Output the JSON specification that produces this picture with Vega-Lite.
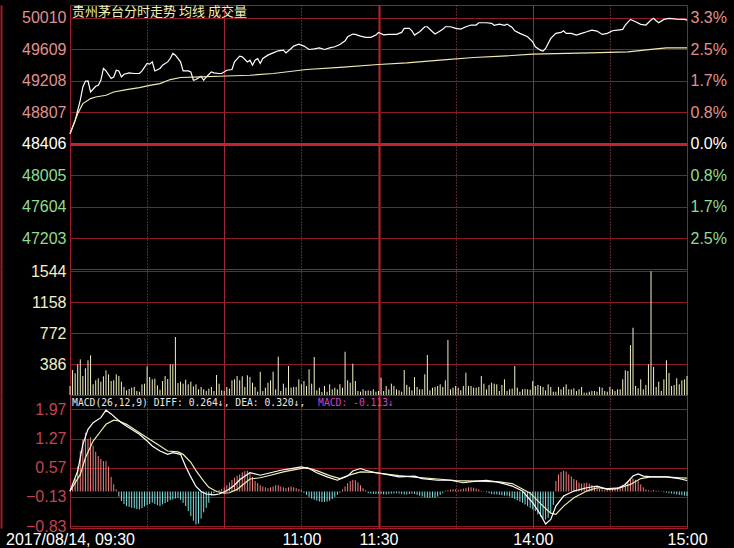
{
  "$schema": "https://vega.github.io/schema/vega-lite/v6.json",
  "background": "#000000",
  "padding": {"left": 0, "top": 4, "right": 0, "bottom": 0},
  "spacing": 0,
  "bounds": "flush",
  "config": {
    "view": {"stroke": "#a01c2a", "strokeWidth": 1},
    "axis": {"labelFont": "Liberation Sans", "labelFontSize": 16, "ticks": false, "tickSize": 0, "title": null, "gridColor": "#8e1a26", "domainColor": "#a01c2a", "labelOverlap": false},
    "concat": {"spacing": 0}
  },
  "datasets": {
    "price": [
      {"m":0,"p":48534},{"m":2,"p":48700},{"m":4,"p":48960},{"m":5,"p":49129},{"m":6,"p":49202},{"m":7,"p":49205},{"m":8,"p":49065},{"m":10,"p":49138},{"m":11,"p":49150},{"m":12,"p":49214},{"m":13,"p":49364},{"m":14,"p":49333},{"m":16,"p":49236},{"m":17,"p":49256},{"m":18,"p":49342},{"m":19,"p":49333},{"m":20,"p":49256},{"m":21,"p":49291},{"m":23,"p":49308},{"m":25,"p":49300},{"m":27,"p":49300},{"m":28,"p":49333},{"m":30,"p":49428},{"m":31,"p":49419},{"m":32,"p":49448},{"m":33,"p":49333},{"m":35,"p":49364},{"m":36,"p":49406},{"m":38,"p":49448},{"m":39,"p":49491},{"m":40,"p":49555},{"m":41,"p":49534},{"m":43,"p":49448},{"m":44,"p":49333},{"m":46,"p":49333},{"m":47,"p":49320},{"m":48,"p":49214},{"m":49,"p":49223},{"m":51,"p":49265},{"m":52,"p":49214},{"m":53,"p":49256},{"m":55,"p":49320},{"m":56,"p":49308},{"m":58,"p":49300},{"m":59,"p":49300},{"m":61,"p":49342},{"m":63,"p":49351},{"m":64,"p":49448},{"m":66,"p":49521},{"m":67,"p":49512},{"m":69,"p":49448},{"m":70,"p":49470},{"m":71,"p":49406},{"m":72,"p":49470},{"m":73,"p":49491},{"m":74,"p":49428},{"m":75,"p":49491},{"m":77,"p":49534},{"m":79,"p":49563},{"m":81,"p":49589},{"m":83,"p":49597},{"m":84,"p":49563},{"m":86,"p":49619},{"m":87,"p":49649},{"m":89,"p":49674},{"m":91,"p":49649},{"m":93,"p":49606},{"m":95,"p":49614},{"m":97,"p":49627},{"m":99,"p":49606},{"m":101,"p":49627},{"m":103,"p":49640},{"m":105,"p":49670},{"m":107,"p":49716},{"m":108,"p":49767},{"m":110,"p":49802},{"m":111,"p":49798},{"m":113,"p":49776},{"m":115,"p":49760},{"m":117,"p":49760},{"m":119,"p":49789},{"m":120,"p":49823},{"m":122,"p":49793},{"m":124,"p":49798},{"m":127,"p":49798},{"m":129,"p":49823},{"m":130,"p":49875},{"m":132,"p":49875},{"m":133,"p":49844},{"m":134,"p":49789},{"m":136,"p":49831},{"m":138,"p":49895},{"m":139,"p":49895},{"m":141,"p":49831},{"m":142,"p":49802},{"m":143,"p":49823},{"m":145,"p":49862},{"m":146,"p":49895},{"m":148,"p":49895},{"m":150,"p":49875},{"m":152,"p":49866},{"m":154,"p":49895},{"m":156,"p":49917},{"m":158,"p":49917},{"m":159,"p":49946},{"m":162,"p":49946},{"m":164,"p":49938},{"m":165,"p":49913},{"m":167,"p":49929},{"m":169,"p":49913},{"m":170,"p":49929},{"m":172,"p":49887},{"m":173,"p":49844},{"m":175,"p":49811},{"m":178,"p":49767},{"m":180,"p":49703},{"m":181,"p":49640},{"m":183,"p":49597},{"m":184,"p":49585},{"m":185,"p":49619},{"m":187,"p":49747},{"m":189,"p":49811},{"m":191,"p":49823},{"m":192,"p":49844},{"m":193,"p":49811},{"m":195,"p":49811},{"m":197,"p":49789},{"m":199,"p":49811},{"m":201,"p":49831},{"m":203,"p":49853},{"m":205,"p":49840},{"m":207,"p":49798},{"m":209,"p":49811},{"m":211,"p":49844},{"m":213,"p":49853},{"m":215,"p":49862},{"m":216,"p":49917},{"m":218,"p":49989},{"m":220,"p":49959},{"m":222,"p":49926},{"m":224,"p":49917},{"m":226,"p":49981},{"m":227,"p":50002},{"m":228,"p":49972},{"m":229,"p":49946},{"m":231,"p":49989},{"m":233,"p":50002},{"m":236,"p":49993},{"m":239,"p":49989},{"m":240,"p":49980}
    ],
    "avg": [
      {"m":0,"a":48534},{"m":3,"a":48789},{"m":5,"a":48917},{"m":8,"a":48981},{"m":10,"a":49001},{"m":14,"a":49023},{"m":17,"a":49065},{"m":22,"a":49096},{"m":27,"a":49121},{"m":31,"a":49150},{"m":35,"a":49172},{"m":39,"a":49223},{"m":43,"a":49249},{"m":51,"a":49257},{"m":58,"a":49265},{"m":70,"a":49278},{"m":79,"a":49300},{"m":92,"a":49351},{"m":105,"a":49377},{"m":120,"a":49415},{"m":131,"a":49435},{"m":144,"a":49470},{"m":157,"a":49504},{"m":168,"a":49521},{"m":180,"a":49546},{"m":202,"a":49563},{"m":217,"a":49576},{"m":227,"a":49610},{"m":232,"a":49627},{"m":240,"a":49627}
    ],
    "diff": [
      {"m":0,"d":0.01},{"m":3,"d":0.49},{"m":5,"d":1.13},{"m":7,"d":1.49},{"m":9,"d":1.65},{"m":12,"d":1.77},{"m":14,"d":1.95},{"m":16,"d":1.86},{"m":18,"d":1.75},{"m":20,"d":1.65},{"m":23,"d":1.53},{"m":27,"d":1.37},{"m":30,"d":1.21},{"m":32,"d":1.09},{"m":35,"d":0.97},{"m":38,"d":0.89},{"m":40,"d":0.93},{"m":43,"d":0.89},{"m":45,"d":0.6},{"m":47,"d":0.35},{"m":49,"d":0.12},{"m":51,"d":0.0},{"m":53,"d":-0.06},{"m":56,"d":-0.08},{"m":58,"d":-0.06},{"m":61,"d":0.02},{"m":64,"d":0.15},{"m":66,"d":0.28},{"m":70,"d":0.45},{"m":74,"d":0.39},{"m":78,"d":0.45},{"m":82,"d":0.51},{"m":86,"d":0.55},{"m":90,"d":0.59},{"m":93,"d":0.55},{"m":96,"d":0.45},{"m":100,"d":0.35},{"m":104,"d":0.27},{"m":108,"d":0.37},{"m":110,"d":0.49},{"m":113,"d":0.55},{"m":115,"d":0.51},{"m":119,"d":0.45},{"m":123,"d":0.41},{"m":128,"d":0.35},{"m":134,"d":0.37},{"m":137,"d":0.31},{"m":143,"d":0.27},{"m":148,"d":0.27},{"m":153,"d":0.21},{"m":158,"d":0.25},{"m":162,"d":0.27},{"m":166,"d":0.23},{"m":172,"d":0.13},{"m":176,"d":0.01},{"m":180,"d":-0.27},{"m":183,"d":-0.55},{"m":185,"d":-0.78},{"m":187,"d":-0.67},{"m":189,"d":-0.35},{"m":192,"d":-0.11},{"m":196,"d":0.01},{"m":201,"d":0.09},{"m":205,"d":0.13},{"m":209,"d":0.05},{"m":213,"d":0.07},{"m":216,"d":0.17},{"m":219,"d":0.37},{"m":221,"d":0.42},{"m":223,"d":0.37},{"m":227,"d":0.35},{"m":232,"d":0.35},{"m":237,"d":0.31},{"m":240,"d":0.264}
    ],
    "dea": [
      {"m":0,"e":0.01},{"m":4,"e":0.41},{"m":6,"e":0.81},{"m":9,"e":1.21},{"m":12,"e":1.45},{"m":14,"e":1.61},{"m":17,"e":1.71},{"m":19,"e":1.69},{"m":22,"e":1.61},{"m":26,"e":1.45},{"m":30,"e":1.29},{"m":34,"e":1.13},{"m":38,"e":0.97},{"m":42,"e":0.95},{"m":44,"e":0.89},{"m":47,"e":0.7},{"m":49,"e":0.5},{"m":52,"e":0.25},{"m":54,"e":0.1},{"m":57,"e":0.0},{"m":60,"e":-0.04},{"m":62,"e":-0.03},{"m":65,"e":0.05},{"m":67,"e":0.15},{"m":70,"e":0.3},{"m":74,"e":0.33},{"m":78,"e":0.39},{"m":83,"e":0.47},{"m":88,"e":0.53},{"m":92,"e":0.57},{"m":96,"e":0.5},{"m":101,"e":0.38},{"m":105,"e":0.31},{"m":109,"e":0.4},{"m":113,"e":0.47},{"m":118,"e":0.46},{"m":123,"e":0.42},{"m":128,"e":0.38},{"m":135,"e":0.34},{"m":143,"e":0.3},{"m":150,"e":0.26},{"m":158,"e":0.25},{"m":167,"e":0.23},{"m":172,"e":0.19},{"m":179,"e":-0.04},{"m":184,"e":-0.35},{"m":187,"e":-0.52},{"m":189,"e":-0.55},{"m":192,"e":-0.35},{"m":196,"e":-0.15},{"m":201,"e":0.01},{"m":205,"e":0.09},{"m":209,"e":0.07},{"m":214,"e":0.09},{"m":218,"e":0.17},{"m":222,"e":0.31},{"m":226,"e":0.35},{"m":232,"e":0.35},{"m":237,"e":0.33},{"m":240,"e":0.32}
    ],
    "bars": [
      {"m":0,"v":112,"h":0.03},{"m":1,"v":311,"h":0.09},{"m":2,"v":270,"h":0.3},{"m":3,"v":382,"h":0.6},{"m":4,"v":444,"h":0.97},{"m":5,"v":237,"h":1.25},{"m":6,"v":332,"h":1.41},{"m":7,"v":432,"h":1.26},{"m":8,"v":494,"h":1.3},{"m":9,"v":133,"h":1.1},
      {"m":10,"v":183,"h":0.95},{"m":11,"v":208,"h":0.85},{"m":12,"v":166,"h":0.78},{"m":13,"v":233,"h":0.73},{"m":14,"v":307,"h":0.73},{"m":15,"v":258,"h":0.6},{"m":16,"v":174,"h":0.35},{"m":17,"v":183,"h":0.17},{"m":18,"v":258,"h":0.05},{"m":19,"v":237,"h":-0.12},
      {"m":20,"v":166,"h":-0.23},{"m":21,"v":100,"h":-0.3},{"m":22,"v":58,"h":-0.35},{"m":23,"v":75,"h":-0.37},{"m":24,"v":91,"h":-0.39},{"m":25,"v":100,"h":-0.4},{"m":26,"v":50,"h":-0.42},{"m":27,"v":41,"h":-0.43},{"m":28,"v":133,"h":-0.4},{"m":29,"v":141,"h":-0.36},
      {"m":30,"v":357,"h":-0.33},{"m":31,"v":224,"h":-0.3},{"m":32,"v":195,"h":-0.27},{"m":33,"v":203,"h":-0.3},{"m":34,"v":120,"h":-0.33},{"m":35,"v":66,"h":-0.35},{"m":36,"v":174,"h":-0.31},{"m":37,"v":237,"h":-0.28},{"m":38,"v":199,"h":-0.25},{"m":39,"v":382,"h":-0.21},
      {"m":40,"v":382,"h":-0.19},{"m":41,"v":722,"h":-0.17},{"m":42,"v":149,"h":-0.15},{"m":43,"v":166,"h":-0.2},{"m":44,"v":141,"h":-0.27},{"m":45,"v":191,"h":-0.35},{"m":46,"v":133,"h":-0.47},{"m":47,"v":166,"h":-0.59},{"m":48,"v":108,"h":-0.7},{"m":49,"v":133,"h":-0.79},
      {"m":50,"v":71,"h":-0.77},{"m":51,"v":100,"h":-0.65},{"m":52,"v":71,"h":-0.5},{"m":53,"v":50,"h":-0.39},{"m":54,"v":79,"h":-0.27},{"m":55,"v":100,"h":-0.1},{"m":56,"v":50,"h":-0.04},{"m":57,"v":249,"h":0.02},{"m":58,"v":141,"h":0.04},{"m":59,"v":58,"h":0.06},
      {"m":60,"v":50,"h":0.1},{"m":61,"v":100,"h":0.15},{"m":62,"v":79,"h":0.22},{"m":63,"v":183,"h":0.28},{"m":64,"v":195,"h":0.33},{"m":65,"v":237,"h":0.38},{"m":66,"v":183,"h":0.41},{"m":67,"v":233,"h":0.46},{"m":68,"v":100,"h":0.49},{"m":69,"v":245,"h":0.5},
      {"m":70,"v":224,"h":0.45},{"m":71,"v":153,"h":0.35},{"m":72,"v":100,"h":0.25},{"m":73,"v":41,"h":0.2},{"m":74,"v":290,"h":0.15},{"m":75,"v":50,"h":0.12},{"m":76,"v":91,"h":0.1},{"m":77,"v":153,"h":0.08},{"m":78,"v":183,"h":0.1},{"m":79,"v":290,"h":0.12},
      {"m":80,"v":71,"h":0.15},{"m":81,"v":477,"h":0.15},{"m":82,"v":50,"h":0.12},{"m":83,"v":141,"h":0.1},{"m":84,"v":91,"h":0.08},{"m":85,"v":361,"h":0.1},{"m":86,"v":91,"h":0.12},{"m":87,"v":100,"h":0.1},{"m":88,"v":100,"h":0.08},{"m":89,"v":195,"h":0.06},
      {"m":90,"v":133,"h":0.04},{"m":91,"v":174,"h":-0.03},{"m":92,"v":112,"h":-0.08},{"m":93,"v":320,"h":-0.13},{"m":94,"v":141,"h":-0.17},{"m":95,"v":473,"h":-0.2},{"m":96,"v":58,"h":-0.22},{"m":97,"v":91,"h":-0.24},{"m":98,"v":37,"h":-0.25},{"m":99,"v":112,"h":-0.25},
      {"m":100,"v":41,"h":-0.24},{"m":101,"v":133,"h":-0.22},{"m":102,"v":71,"h":-0.18},{"m":103,"v":91,"h":-0.13},{"m":104,"v":71,"h":-0.08},{"m":105,"v":133,"h":-0.03},{"m":106,"v":91,"h":0.05},{"m":107,"v":539,"h":0.12},{"m":108,"v":183,"h":0.2},{"m":109,"v":153,"h":0.25},
      {"m":110,"v":390,"h":0.28},{"m":111,"v":174,"h":0.27},{"m":112,"v":50,"h":0.22},{"m":113,"v":41,"h":0.15},{"m":114,"v":71,"h":0.08},{"m":115,"v":50,"h":0.03},{"m":116,"v":58,"h":-0.04},{"m":117,"v":50,"h":-0.05},{"m":118,"v":71,"h":-0.06},{"m":119,"v":41,"h":-0.06},
      {"m":120,"v":50,"h":-0.05},{"m":121,"v":216,"h":-0.06},{"m":122,"v":50,"h":-0.07},{"m":123,"v":112,"h":-0.07},{"m":124,"v":71,"h":-0.06},{"m":125,"v":141,"h":-0.05},{"m":126,"v":112,"h":-0.05},{"m":127,"v":71,"h":-0.04},{"m":128,"v":58,"h":-0.05},{"m":129,"v":41,"h":-0.06},
      {"m":130,"v":311,"h":-0.07},{"m":131,"v":125,"h":-0.07},{"m":132,"v":100,"h":-0.06},{"m":133,"v":58,"h":-0.05},{"m":134,"v":224,"h":-0.06},{"m":135,"v":100,"h":-0.08},{"m":136,"v":71,"h":-0.1},{"m":137,"v":71,"h":-0.12},{"m":138,"v":258,"h":-0.14},{"m":139,"v":498,"h":-0.15},
      {"m":140,"v":58,"h":-0.15},{"m":141,"v":91,"h":-0.14},{"m":142,"v":100,"h":-0.15},{"m":143,"v":112,"h":-0.12},{"m":144,"v":133,"h":-0.08},{"m":145,"v":100,"h":-0.04},{"m":146,"v":183,"h":0.02},{"m":147,"v":685,"h":0.03},{"m":148,"v":71,"h":0.04},{"m":149,"v":91,"h":0.05},
      {"m":150,"v":112,"h":0.05},{"m":151,"v":91,"h":0.04},{"m":152,"v":58,"h":0.05},{"m":153,"v":112,"h":0.07},{"m":154,"v":278,"h":0.08},{"m":155,"v":112,"h":0.1},{"m":156,"v":112,"h":0.1},{"m":157,"v":91,"h":0.09},{"m":158,"v":91,"h":0.07},{"m":159,"v":100,"h":0.05},
      {"m":160,"v":237,"h":0.02},{"m":161,"v":141,"h":0.01},{"m":162,"v":71,"h":-0.02},{"m":163,"v":125,"h":-0.04},{"m":164,"v":153,"h":-0.06},{"m":165,"v":141,"h":-0.07},{"m":166,"v":133,"h":-0.07},{"m":167,"v":50,"h":-0.08},{"m":168,"v":125,"h":-0.09},{"m":169,"v":195,"h":-0.1},
      {"m":170,"v":50,"h":-0.1},{"m":171,"v":71,"h":-0.12},{"m":172,"v":79,"h":-0.15},{"m":173,"v":361,"h":-0.18},{"m":174,"v":91,"h":-0.21},{"m":175,"v":41,"h":-0.24},{"m":176,"v":71,"h":-0.27},{"m":177,"v":75,"h":-0.31},{"m":178,"v":71,"h":-0.35},{"m":179,"v":66,"h":-0.39},
      {"m":180,"v":174,"h":-0.43},{"m":181,"v":112,"h":-0.47},{"m":182,"v":125,"h":-0.55},{"m":183,"v":112,"h":-0.6},{"m":184,"v":100,"h":-0.65},{"m":185,"v":58,"h":-0.67},{"m":186,"v":133,"h":-0.63},{"m":187,"v":100,"h":-0.5},{"m":188,"v":41,"h":-0.32},{"m":189,"v":41,"h":0.25},
      {"m":190,"v":100,"h":0.41},{"m":191,"v":71,"h":0.47},{"m":192,"v":100,"h":0.5},{"m":193,"v":133,"h":0.48},{"m":194,"v":71,"h":0.41},{"m":195,"v":71,"h":0.36},{"m":196,"v":83,"h":0.3},{"m":197,"v":50,"h":0.27},{"m":198,"v":71,"h":0.21},{"m":199,"v":100,"h":0.19},
      {"m":200,"v":29,"h":0.2},{"m":201,"v":29,"h":0.21},{"m":202,"v":41,"h":0.19},{"m":203,"v":50,"h":0.16},{"m":204,"v":50,"h":0.12},{"m":205,"v":41,"h":0.08},{"m":206,"v":100,"h":0.06},{"m":207,"v":91,"h":0.05},{"m":208,"v":50,"h":0.04},{"m":209,"v":41,"h":0.04},
      {"m":210,"v":100,"h":0.05},{"m":211,"v":71,"h":0.06},{"m":212,"v":50,"h":0.08},{"m":213,"v":71,"h":0.1},{"m":214,"v":71,"h":0.12},{"m":215,"v":195,"h":0.16},{"m":216,"v":307,"h":0.21},{"m":217,"v":299,"h":0.25},{"m":218,"v":622,"h":0.29},{"m":219,"v":838,"h":0.31},
      {"m":220,"v":112,"h":0.28},{"m":221,"v":83,"h":0.25},{"m":222,"v":195,"h":0.17},{"m":223,"v":71,"h":0.1},{"m":224,"v":125,"h":0.05},{"m":225,"v":382,"h":0.03},{"m":226,"v":1540,"h":0.02},{"m":227,"v":349,"h":0.03},{"m":228,"v":100,"h":0.02},{"m":229,"v":166,"h":0.02},
      {"m":230,"v":50,"h":0.01},{"m":231,"v":195,"h":-0.02},{"m":232,"v":432,"h":-0.03},{"m":233,"v":274,"h":-0.04},{"m":234,"v":112,"h":-0.05},{"m":235,"v":125,"h":-0.06},{"m":236,"v":208,"h":-0.07},{"m":237,"v":133,"h":-0.08},{"m":238,"v":183,"h":-0.09},{"m":239,"v":195,"h":-0.1},
      {"m":240,"v":237,"h":-0.11}
    ]
  },
  "vconcat": [
    {
      "width": 617,
      "height": 264,
      "resolve": {"axis": {"y": "independent"}},
      "layer": [
        {
          "data": {"name": "price"},
          "mark": {"type": "line", "color": "#ffffff", "strokeWidth": 1.2},
          "encoding": {
            "x": {"field": "m", "type": "quantitative", "scale": {"domain": [0, 240], "nice": false, "zero": false},
              "axis": {"values": [30, 60, 90, 120, 150, 180, 210], "labels": false, "domain": false, "grid": true,
                "gridDash": {"condition": {"test": "datum.value % 60 == 30", "value": [1, 2]}, "value": []},
                "gridColor": {"condition": [{"test": "datum.value == 120", "value": "#c42030"}, {"test": "datum.value % 60 == 30", "value": "#b05060"}], "value": "#a02838"},
                "gridWidth": {"condition": {"test": "datum.value == 120", "value": 2}, "value": 1}}},
            "y": {"field": "p", "type": "quantitative", "scale": {"domain": [46812, 50172], "nice": false, "zero": false},
              "axis": {"orient": "left", "values": [47203, 47604, 48005, 48406, 48807, 49208, 49609, 50010], "format": "d", "offset": 69, "labelPadding": -65, "domain": true, "domainWidth": 2, "domainColor": "#a01c2a", "grid": true,
                "gridColor": {"condition": {"test": "datum.value == 48406", "value": "#c8202e"}, "value": "#8e1a26"},
                "gridWidth": {"condition": {"test": "datum.value == 48406", "value": 3}, "value": 1},
                "labelColor": {"condition": [{"test": "datum.value > 48406", "value": "#e09090"}, {"test": "datum.value < 48406", "value": "#90dc90"}], "value": "#ffffff"}}}
          }
        },
        {
          "data": {"name": "avg"},
          "mark": {"type": "line", "color": "#f0e8b0", "strokeWidth": 1.2},
          "encoding": {
            "x": {"field": "m", "type": "quantitative"},
            "y": {"field": "a", "type": "quantitative",
              "axis": {"orient": "right", "values": [47203, 47604, 48005, 48406, 48807, 49208, 49609, 50010], "offset": 46, "labelPadding": -43, "labelAlign": "left", "domain": true, "domainColor": "#000000", "grid": false,
                "labelExpr": "format(abs(datum.value - 48406) / 48406 * 100, '.1f') + '%'",
                "labelColor": {"condition": [{"test": "datum.value > 48406", "value": "#e09090"}, {"test": "datum.value < 48406", "value": "#90dc90"}], "value": "#ffffff"}}}
          }
        },
        {
          "data": {"values": [{}]},
          "mark": {"type": "text", "text": "贵州茅台分时走势  均线  成交量", "align": "left", "baseline": "middle", "font": "Noto Sans CJK SC", "fontSize": 13, "color": "#f0f0b8"},
          "encoding": {
            "x": {"datum": 0.8, "type": "quantitative"},
            "y": {"datum": 50083, "type": "quantitative", "axis": null}
          }
        }
      ]
    },
    {
      "width": 617,
      "height": 126,
      "data": {"name": "bars"},
      "mark": {"type": "rule", "color": "#f2f0c4", "strokeWidth": 1},
      "encoding": {
        "x": {"field": "m", "type": "quantitative", "scale": {"domain": [0, 240], "nice": false, "zero": false},
          "axis": {"values": [30, 60, 90, 120, 150, 180, 210], "labels": false, "domain": false, "grid": true,
            "gridDash": {"condition": {"test": "datum.value % 60 == 30", "value": [1, 2]}, "value": []},
            "gridColor": {"condition": [{"test": "datum.value == 120", "value": "#c42030"}, {"test": "datum.value % 60 == 30", "value": "#b05060"}], "value": "#a02838"},
            "gridWidth": {"condition": {"test": "datum.value == 120", "value": 2}, "value": 1}}},
        "y": {"field": "v", "type": "quantitative", "scale": {"domain": [0, 1569], "nice": false},
          "axis": {"orient": "left", "values": [386, 772, 1158, 1544], "format": "d", "offset": 69, "labelPadding": -65, "domain": true, "domainWidth": 2, "domainColor": "#a01c2a", "grid": true, "gridColor": "#8e1a26", "labelColor": "#f0f0c8"}},
        "y2": {"datum": 0}
      }
    },
    {
      "width": 617,
      "height": 133,
      "resolve": {"axis": {"y": "independent"}},
      "layer": [
        {
          "data": {"name": "bars"},
          "mark": {"type": "rule", "strokeWidth": 1},
          "encoding": {
            "x": {"field": "m", "type": "quantitative", "scale": {"domain": [0, 240], "nice": false, "zero": false},
              "axis": {"orient": "bottom", "values": [0, 30, 60, 90, 120, 150, 180, 210, 240], "offset": 20, "labelPadding": -4, "labelBaseline": "alphabetic", "labelAlign": "center", "labelFlush": false, "labelOverlap": false, "labelColor": "#ffffff",
                "labelExpr": "datum.value == 0 ? '2017/08/14, 09:30' : datum.value == 90 ? '11:00' : datum.value == 120 ? '11:30' : datum.value == 180 ? '14:00' : datum.value == 240 ? '15:00' : ''",
                "domain": true, "domainColor": "#7a1822", "grid": true,
                "gridDash": {"condition": {"test": "datum.value % 60 == 30", "value": [1, 2]}, "value": []},
                "gridColor": {"condition": [{"test": "datum.value == 120", "value": "#c42030"}, {"test": "datum.value % 60 == 30", "value": "#b05060"}], "value": "#a02838"},
                "gridWidth": {"condition": {"test": "datum.value == 120", "value": 2}, "value": 1}}},
            "y": {"field": "h", "type": "quantitative", "scale": {"domain": [-0.875, 2.313], "nice": false, "zero": false},
              "axis": {"orient": "left", "values": [-0.83, -0.13, 0.57, 1.27, 1.97], "format": ".2f", "labelOverlap": false, "offset": 69, "labelPadding": -65, "domain": true, "domainWidth": 2, "domainColor": "#a01c2a", "grid": true, "gridColor": "#8e1a26", "labelColor": "#c04450"}},
            "y2": {"datum": 0},
            "color": {"condition": {"test": "datum.h > 0", "value": "#f08080"}, "value": "#80e0e0"}
          }
        },
        {
          "data": {"name": "dea"},
          "mark": {"type": "line", "color": "#f0f0b0", "strokeWidth": 1.2},
          "encoding": {
            "x": {"field": "m", "type": "quantitative"},
            "y": {"field": "e", "type": "quantitative", "axis": null}
          }
        },
        {
          "data": {"name": "diff"},
          "mark": {"type": "line", "color": "#ffffff", "strokeWidth": 1.2},
          "encoding": {
            "x": {"field": "m", "type": "quantitative"},
            "y": {"field": "d", "type": "quantitative", "axis": null}
          }
        },
        {
          "data": {"values": [{}]},
          "mark": {"type": "text", "text": "MACD(26,12,9) DIFF: 0.264↓, DEA: 0.320↓,", "align": "left", "baseline": "middle", "font": "DejaVu Sans Mono", "fontSize": 9.7, "color": "#e8e8e8"},
          "encoding": {
            "x": {"datum": 0.8, "type": "quantitative"},
            "y": {"datum": 2.12, "type": "quantitative", "axis": null}
          }
        },
        {
          "data": {"values": [{}]},
          "mark": {"type": "text", "text": "MACD: -0.113↓", "align": "left", "baseline": "middle", "font": "DejaVu Sans Mono", "fontSize": 9.7, "color": "#d040d0"},
          "encoding": {
            "x": {"datum": 96.5, "type": "quantitative"},
            "y": {"datum": 2.12, "type": "quantitative", "axis": null}
          }
        }
      ]
    }
  ]
}
